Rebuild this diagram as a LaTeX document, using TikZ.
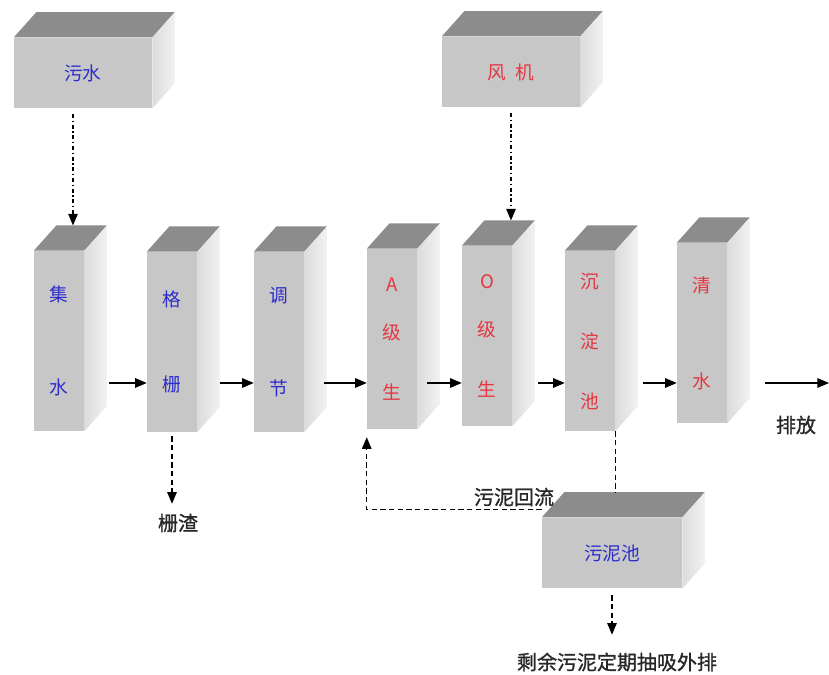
\documentclass[tikz,border=0pt]{standalone}
\usepackage{fontspec}
\usepackage{tikz}
\usetikzlibrary{arrows}
\setmainfont{Noto Sans CJK SC}
\newfontfamily\notefont[FakeBold=1.2]{Noto Sans CJK SC}
\definecolor{tankblue}{RGB}{45,45,205}
\definecolor{tankred}{RGB}{228,55,65}
\definecolor{notegray}{RGB}{40,40,40}
\newcommand{\tankdepth}{17pt,19pt}
\tikzstyle{front} = [fill=black!22, inner sep=0pt, font=\fontsize{14}{16}\selectfont]
\tikzstyle{box} = [front, minimum width=103.5pt, minimum height=53pt]
\tikzstyle{column} = [front, minimum width=37.5pt, minimum height=135pt, align=center]
\tikzstyle{note} = [text=notegray, font=\notefont\fontsize{15}{18}\selectfont]
\tikzstyle{flow} = [->, line width=1pt]
\tikzstyle{feed} = [->, line width=1pt, dash pattern=on 3pt off 2pt on 1pt off 2pt]
\tikzstyle{waste} = [->, line width=1pt, dash pattern=on 4pt off 2.5pt]

\begin{document}
\begin{tikzpicture}[>=triangle 45, x=0.75pt, y=-0.75pt]
\useasboundingbox (0,0) rectangle (829,675);

% front faces
\node[box, text=tankblue] (wushui) at (83,73) {污水};
\node[box, text=tankred] (fengji) at (511,72) {风\hspace{0.5em}机};
\node[column, text=tankblue] (jishui) at (59,341) {集\\[54pt]水};
\node[column, text=tankblue] (geshan) at (172,342) {格\\[48pt]栅};
\node[column, text=tankblue] (tiaojie) at (279,342) {调\\[54pt]节};
\node[column, text=tankred] (Aji) at (392,339) {A\\[20pt]级\\[29pt]生};
\node[column, text=tankred] (Oji) at (487,336) {O\\[20pt]级\\[29pt]生};
\node[column, text=tankred] (chendian) at (590,341) {沉\\[29pt]淀\\[29pt]池};
\node[column, text=tankred] (qingshui) at (702,333) {清\\[56pt]水};
\node[box, text=tankblue, minimum width=105pt] (wunichi) at (612,553) {污泥池};

% top and side faces
\foreach \tank in {wushui,fengji,jishui,geshan,tiaojie,Aji,Oji,chendian,qingshui,wunichi}{
  \fill[black!45] (\tank.north west) -- ([shift={(\tankdepth)}]\tank.north west)
    -- ([shift={(\tankdepth)}]\tank.north east) -- (\tank.north east) -- cycle;
  \shade[left color=black!14, right color=black!5] (\tank.north east)
    -- ([shift={(\tankdepth)}]\tank.north east) -- ([shift={(\tankdepth)}]\tank.south east)
    -- (\tank.south east) -- cycle;
}

% labels
\node[note] (zhazha) at (178,523) {栅渣};
\node[note] (paifang) at (796,425) {排放};
\node[note] (huiliu) at (514,497) {污泥回流};
\node[note] (waipai) at (617,662) {剩余污泥定期抽吸外排};
\coordinate (flowline) at (0,383);
\coordinate (outlet) at (829,383);
\coordinate (pooltop) at ([yshift=19pt]wunichi.north);

% main flow
\draw[flow] ([xshift=18.75pt]jishui.east |- flowline) -- (geshan.west |- flowline);
\draw[flow] ([xshift=17pt]geshan.east |- flowline) -- (tiaojie.west |- flowline);
\draw[flow] ([xshift=15pt]tiaojie.east |- flowline) -- (Aji.west |- flowline);
\draw[flow] ([xshift=7.5pt]Aji.east |- flowline) -- (Oji.west |- flowline);
\draw[flow] ([xshift=19.5pt]Oji.east |- flowline) -- (chendian.west |- flowline);
\draw[flow] ([xshift=21pt]chendian.east |- flowline) -- (qingshui.west |- flowline);
\draw[flow] ([xshift=28.5pt]qingshui.east |- flowline) -- (outlet);

% feeds and sludge
\draw[feed, shorten <=4pt] ([xshift=-7.5pt]wushui.south) -- ([shift={(10.5pt,19pt)}]jishui.north);
\draw[feed, shorten <=4pt] (fengji.south) -- ([shift={(18pt,19pt)}]Oji.north);
\draw[waste, shorten <=3pt, shorten >=4pt] (geshan.south) -- (geshan.south |- zhazha.north);
\draw[waste, -] (chendian.south east) -- (chendian.south east |- pooltop);
\draw[waste] ([yshift=6pt]wunichi.north west) -| ([yshift=-6pt]Aji.south west);
\draw[waste, shorten <=5pt, shorten >=10pt] (wunichi.south) -- (wunichi.south |- waipai.north);

\end{tikzpicture}
\end{document}
